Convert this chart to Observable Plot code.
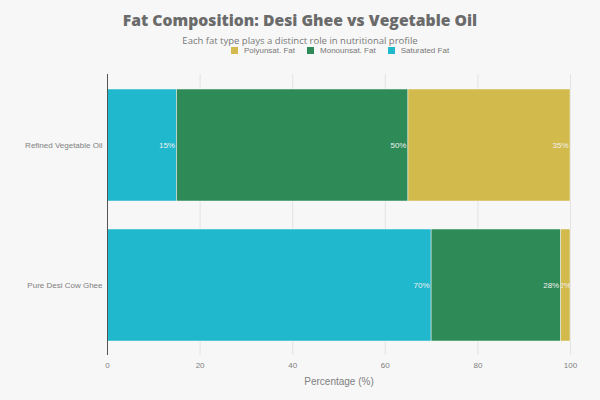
<!DOCTYPE html>
<html>
<head>
<meta charset="utf-8">
<script src="https://cdn.jsdelivr.net/npm/d3@7"></script>
<script src="https://cdn.jsdelivr.net/npm/@observablehq/plot@0.6"></script>
<style>
  html, body { margin: 0; padding: 0; background: #f7f7f7; }
  body { width: 600px; height: 400px; overflow: hidden; position: relative; font-family: "Open Sans", sans-serif; }
  #title { position: absolute; left: 0; width: 600px; top: 10px; text-align: center; font-weight: 800; font-size: 15.7px; color: #6b6b6b; line-height: 20px; }
  #subtitle { position: absolute; left: 0; width: 600px; top: 34px; text-align: center; font-size: 9.5px; color: #777; line-height: 13px; }
  #legend { position: absolute; left: 80px; width: 520px; top: 46px; display: flex; gap: 12px; justify-content: center; font-family: "Liberation Sans", sans-serif; font-size: 8px; color: #777; line-height: 10px; }
  #legend span.sw { display: inline-block; width: 7px; height: 7px; margin-right: 6px; vertical-align: -1px; }
  #chart { position: absolute; left: 0; top: 58px; }
</style>
</head>
<body>
<div id="title">Fat Composition: Desi Ghee vs Vegetable Oil</div>
<div id="subtitle">Each fat type plays a distinct role in nutritional profile</div>
<div id="legend"></div>
<div id="chart"></div>
<script>
const products = ["Refined Vegetable Oil", "Pure Desi Cow Ghee"];
const fatTypes = ["Saturated Fat", "Monounsat. Fat", "Polyunsat. Fat"];
const colors = ["#1FB8CD", "#2E8B57", "#D2BA4C"];
const oilValues = [15, 50, 35];
const gheeValues = [70, 28, 2];
const xTicks = [0, 20, 40, 60, 80, 100];

const data = [];
fatTypes.forEach((t, i) => {
  data.push({product: products[0], type: t, value: oilValues[i]});
  data.push({product: products[1], type: t, value: gheeValues[i]});
});

// legend (reversed order as in reference)
const leg = document.getElementById("legend");
[...fatTypes].reverse().forEach(t => {
  const i = fatTypes.indexOf(t);
  const d = document.createElement("div");
  d.innerHTML = `<span class="sw" style="background:${colors[i]}"></span>${t}`;
  leg.appendChild(d);
});

const chart = Plot.plot({
  width: 600,
  height: 342,
  marginTop: 16,
  marginBottom: 45,
  marginLeft: 107,
  marginRight: 30,
  style: {background: "transparent", fontFamily: "Liberation Sans, sans-serif", fontSize: "8px", color: "#808080"},
  x: {domain: [0, 100], ticks: xTicks, grid: false, tickSize: 0, tickPadding: 7, label: null},
  y: {domain: products, label: null, tickSize: 0, tickPadding: 5, paddingInner: 0.2, paddingOuter: 0.1},
  color: {domain: fatTypes, range: colors},
  marks: [
    Plot.ruleX(xTicks.filter(v => v > 0), {stroke: "#e3e3e3", strokeWidth: 1}),
    Plot.barX(data, Plot.stackX({x: "value", y: "product", fill: "type", order: fatTypes, stroke: "#f7f7f7", strokeWidth: 0.5, inset: 0})),
    Plot.text(data, Plot.stackX2({x: "value", y: "product", z: "type", order: fatTypes, text: d => d.value + "%", textAnchor: "end", dx: -2, fill: "#f0f0f0", fontSize: 8, className: "seglabel"})),
    Plot.ruleX([0], {stroke: "#555", strokeWidth: 1}),
    Plot.text(["Percentage (%)"], {frameAnchor: "bottom", dy: 29, fontSize: 10, fill: "#808080"})
  ]
});
document.getElementById("chart").appendChild(chart);

// clip each segment label to its own bar (as the reference does)
const xs = chart.scale("x"), ys = chart.scale("y");
const ns = "http://www.w3.org/2000/svg";
const defs = document.createElementNS(ns, "defs");
chart.insertBefore(defs, chart.firstChild);
const cum = {};
const segs = data.map(d => {
  const start = cum[d.product] || 0;
  cum[d.product] = start + d.value;
  return {x1: start, x2: start + d.value, product: d.product};
});
const texts = Array.from(chart.querySelectorAll(".seglabel text"));
texts.forEach((t, i) => {
  const s = segs[i];
  if (!s) return;
  // offset of the label group's own coordinate system
  let tx = 0, ty = 0;
  const grp = t.parentNode;
  if (grp.transform && grp.transform.baseVal && grp.transform.baseVal.numberOfItems) {
    const m = grp.transform.baseVal.consolidate().matrix;
    tx = m.e; ty = m.f;
  }
  const x1 = xs.apply(s.x1) - tx, x2 = xs.apply(s.x2) - tx;
  const y0 = ys.apply(s.product) - ty, bw = ys.bandwidth;
  const id = "clipseg" + i;
  const cp = document.createElementNS(ns, "clipPath");
  cp.setAttribute("id", id);
  const r = document.createElementNS(ns, "rect");
  r.setAttribute("x", x1); r.setAttribute("y", y0);
  r.setAttribute("width", x2 - x1); r.setAttribute("height", bw);
  cp.appendChild(r); defs.appendChild(cp);
  const len = t.getComputedTextLength();
  if (len + 4 > x2 - x1) {
    const tr = t.getAttribute("transform") || "";
    const mm = /translate\(([^,]+),([^)]+)\)/.exec(tr);
    if (mm) {
      t.setAttribute("transform", `translate(${(x1 + x2) / 2},${mm[2]})`);
      t.setAttribute("text-anchor", "middle");
      t.removeAttribute("dx");
    }
  }
  const wrap = document.createElementNS(ns, "g");
  wrap.setAttribute("clip-path", `url(#${id})`);
  grp.insertBefore(wrap, t);
  wrap.appendChild(t);
});
</script>
</body>
</html>
